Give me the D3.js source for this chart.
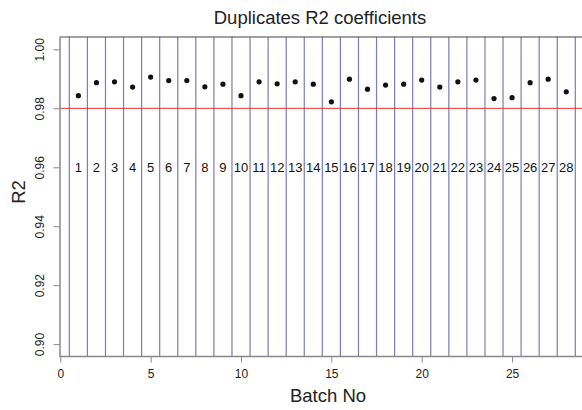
<!DOCTYPE html>
<html><head><meta charset="utf-8">
<script src="https://cdn.jsdelivr.net/npm/d3@7"></script>
<style>body{margin:0;background:#fff}svg{display:block}</style>
</head><body>
<script>
const batches = d3.range(1, 29);
const r2Values = [0.9843,0.9887,0.9890,0.9872,0.9906,0.9894,0.9894,0.9873,0.9882,0.9843,
  0.9890,0.9883,0.9890,0.9882,0.9822,0.9899,0.9865,0.9879,0.9882,0.9896,
  0.9872,0.9890,0.9896,0.9833,0.9836,0.9887,0.9899,0.9856];
const yTicks = [0.90,0.92,0.94,0.96,0.98,1.00];
const xTicks = [0,5,10,15,20,25];
const threshold = 0.98;
const labelLevel = 0.96;

const W = 582, H = 410;
const svg = d3.select("body").append("svg").attr("width", W).attr("height", H);
const pL = 59.5, pR = 583, pT = 37, pB = 356.5;
const x = d3.scaleLinear().domain([0, 28.87]).range([60.3, 582]);
const y = d3.scaleLinear().domain([0.8958, 1.0042]).range([pB, pT]);

// separators
svg.append("g").selectAll("line").data(batches.map(b => b - 0.5).concat([28.5])).join("line")
  .attr("x1", d => x(d)).attr("x2", d => x(d)).attr("y1", pT).attr("y2", pB)
  .attr("stroke", "#7c7cb6").attr("stroke-width", 1.2);

// threshold
svg.append("line").attr("x1", pL).attr("x2", pR).attr("y1", y(threshold)).attr("y2", y(threshold))
  .attr("stroke", "#e83030").attr("stroke-width", 1);

// batch labels
svg.append("g").selectAll("text").data(batches).join("text")
  .attr("x", d => x(d)).attr("y", y(labelLevel)).attr("dy", "0.36em")
  .attr("text-anchor", "middle").attr("font-family", "Liberation Sans Narrow, Liberation Sans, sans-serif")
  .attr("font-size", 13).attr("fill", "#111").text(d => d);

// points
svg.append("g").selectAll("circle").data(batches).join("circle")
  .attr("cx", d => x(d)).attr("cy", (d, i) => y(r2Values[i])).attr("r", 2.6).attr("fill", "#111");

// frame top
svg.append("line").attr("x1", pL).attr("x2", pR).attr("y1", pT).attr("y2", pT)
  .attr("stroke", "#444").attr("stroke-width", 1.2);

// axes
const yAxis = svg.append("g").attr("transform", `translate(${pL},0)`)
  .call(d3.axisLeft(y).tickValues(yTicks).tickSize(6).tickSizeOuter(0).tickFormat(d3.format(".2f")));
yAxis.select(".domain").attr("stroke", "#888").attr("stroke-width", 1.5);
yAxis.selectAll(".tick line").attr("stroke", "#888");
yAxis.selectAll(".tick text").attr("transform", "rotate(-90)").attr("x", 0).attr("y", -16)
  .attr("dy", "0").attr("text-anchor", "middle")
  .attr("font-family", "Liberation Sans, Arial, sans-serif").attr("font-size", 12).attr("fill", "#222");

const xAxis = svg.append("g").attr("transform", `translate(0,${pB})`)
  .call(d3.axisBottom(x).tickValues(xTicks).tickSize(6).tickSizeOuter(0));
xAxis.select(".domain").attr("stroke", "#888").attr("stroke-width", 1.5)
  .attr("d", `M${pL},0H${pR}`);
xAxis.selectAll(".tick line").attr("stroke", "#888");
xAxis.selectAll(".tick text").attr("y", 13).attr("dy", "0.71em")
  .attr("font-family", "Liberation Sans, Arial, sans-serif").attr("font-size", 12).attr("fill", "#222");

svg.append("text").attr("x", 320).attr("y", 24).attr("text-anchor", "middle")
  .attr("font-family", "Liberation Sans, Arial, sans-serif").attr("font-size", 18.5).attr("fill", "#222")
  .text("Duplicates R2 coefficients");
svg.append("text").attr("x", 328).attr("y", 402).attr("text-anchor", "middle")
  .attr("font-family", "Liberation Sans, Arial, sans-serif").attr("font-size", 18.5).attr("fill", "#222")
  .text("Batch No");
svg.append("text").attr("transform", "translate(25,192) rotate(-90)").attr("text-anchor", "middle")
  .attr("font-family", "Liberation Sans, Arial, sans-serif").attr("font-size", 18.5).attr("fill", "#222")
  .text("R2");
</script>
</body></html>
